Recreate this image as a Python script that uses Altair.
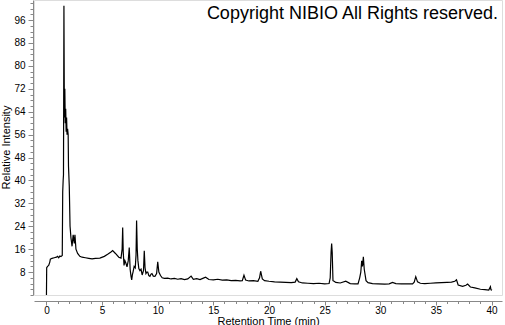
import altair as alt
import pandas as pd

# Retention time (min) and relative intensity (%)
rt = [0.0, 0.02, 0.1, 0.2, 0.3, 0.35, 0.5, 0.7, 0.9, 1.0, 1.1, 1.2, 1.3, 1.42,
      1.46, 1.5, 1.53, 1.57, 1.61, 1.65, 1.69, 1.73, 1.77, 1.81, 1.85, 1.9, 1.95,
      1.98, 2.05, 2.12, 2.2, 2.3, 2.4, 2.5, 2.56, 2.65, 2.8, 3.0, 3.2, 3.5, 3.8,
      4.1, 4.4, 4.8, 5.2, 5.5, 5.8, 5.95, 6.2, 6.5, 6.7, 6.8, 6.85, 6.9, 6.97,
      7.05, 7.15, 7.24, 7.35, 7.44, 7.52, 7.6, 7.66, 7.72, 7.78, 7.88, 7.98, 8.05,
      8.1, 8.16, 8.22, 8.3, 8.4, 8.5, 8.6, 8.72, 8.79, 8.86, 8.94, 9.02, 9.1, 9.2,
      9.3, 9.4, 9.48, 9.6, 9.75, 9.9, 10.0, 10.1, 10.25, 10.4, 10.6, 10.9, 11.2,
      11.5, 11.8, 12.1, 12.4, 12.7, 13.0, 13.2, 13.5, 13.8, 14.1, 14.3, 14.6,
      15.0, 15.4, 15.8, 16.2, 16.6, 17.0, 17.4, 17.6, 17.75, 17.9, 18.2, 18.6,
      19.0, 19.15, 19.25, 19.4, 19.6, 20.0, 20.5, 21.0, 21.5, 22.0, 22.35, 22.5,
      22.65, 23.0, 23.5, 24.0, 24.5, 25.0, 25.4, 25.5, 25.58, 25.63, 25.68, 25.75,
      25.85, 26.0, 26.4, 26.9, 27.3, 27.7, 28.0, 28.15, 28.25, 28.33, 28.4, 28.48,
      28.56, 28.72, 28.9, 29.3, 29.8, 30.4, 30.8, 31.1, 31.4, 31.9, 32.4, 32.9,
      33.05, 33.19, 33.35, 33.6, 34.0, 34.5, 35.0, 35.5, 36.0, 36.4, 36.7, 36.85,
      37.0, 37.4, 37.7, 37.85, 38.1, 38.5, 39.0, 39.4, 39.75, 39.9, 39.95, 40.05]
intensity = [0.0, 9.5, 10.0, 10.3, 11.5, 12.5, 12.8, 13.0, 13.2, 13.5, 13.0, 13.6, 13.4, 13.8,
             36.0, 40.0, 42.0, 101.0, 62.0, 72.0, 60.0, 65.0, 57.0, 62.0, 56.0, 58.0, 56.0,
             45.0, 38.0, 24.0, 20.0, 17.0, 21.0, 18.0, 21.0, 16.0, 14.5, 13.5, 13.2, 13.0, 12.8,
             12.6, 12.8, 12.9, 13.5, 14.2, 15.0, 15.5, 14.5, 13.2, 12.9, 16.0, 23.6, 15.0, 10.3,
             12.0, 11.0, 9.8, 12.0, 16.6, 9.0, 6.5, 5.3, 7.0, 8.0, 10.0, 9.5, 14.0,
             26.0, 16.0, 12.0, 9.2, 8.5, 9.0, 7.0, 8.5, 15.4, 9.5, 7.5, 8.0, 8.0, 6.8,
             6.5, 7.3, 7.5, 6.6, 6.5, 7.5, 11.6, 8.0, 6.8, 6.0, 5.8, 5.9, 5.6,
             5.8, 5.5, 5.7, 5.4, 5.6, 6.6, 5.5, 5.7, 5.4, 5.9, 6.2, 5.4,
             5.3, 5.5, 5.2, 5.3, 5.0, 5.1, 4.9, 5.0, 6.9, 5.2, 4.9, 5.0,
             4.8, 6.0, 8.3, 5.6, 5.0, 4.8, 4.6, 4.5, 4.4, 4.3, 4.5, 5.7,
             4.6, 4.2, 4.1, 4.0, 4.1, 3.9, 4.0, 6.0, 15.0, 18.0, 15.0, 5.0,
             4.8, 4.4, 4.2, 4.8, 4.0, 3.9, 3.9, 6.0, 8.0, 11.9, 10.0, 13.3,
             9.0, 5.0, 4.3, 4.0, 3.9, 3.8, 3.9, 4.4, 4.0, 3.9, 3.9, 3.9,
             4.5, 6.4, 4.6, 4.1, 4.0, 4.1, 4.2, 4.3, 4.4, 4.5, 4.8, 5.3,
             3.5, 3.0, 3.4, 3.8, 2.8, 2.5, 2.0, 1.9, 1.7, 2.9, 1.8, 1.7]

title_text = "Copyright NIBIO All Rights reserved."
x_title = "Retention Time (min)"
y_title = "Relative Intensity"
x_ticks = list(range(0, 41))
y_ticks = list(range(0, 103, 2))

df = pd.DataFrame({"rt": rt, "intensity": intensity})
FONT = "Liberation Sans"

line = alt.Chart(df).mark_line(color="black", strokeWidth=1.2, interpolate="linear").encode(
    x=alt.X("rt:Q",
            scale=alt.Scale(domain=[-1.12, 40.94], nice=False, zero=False),
            axis=alt.Axis(values=x_ticks, title=x_title, offset=6,
                          labelExpr="datum.value % 5 === 0 ? datum.label : ''",
                          labelOverlap=False, labelFlush=False,
                          tickSize={"condition": {"test": "datum.value % 5 === 0", "value": 4}, "value": 2.5},
                          labelPadding=0, titleY=14, titleBaseline="top",
                          titleFontWeight="normal", grid=False)),
    y=alt.Y("intensity:Q",
            scale=alt.Scale(domain=[0, 103], nice=False, zero=True),
            axis=alt.Axis(values=y_ticks, title=y_title, offset=1,
                          labelExpr="(datum.value % 8 === 0 && datum.value > 0) ? datum.label : ''",
                          labelOverlap=False, labelFlush=False,
                          tickSize={"condition": {"test": "datum.value % 8 === 0 && datum.value > 0", "value": 5}, "value": 3},
                          labelPadding=3, titleX=-22, titleY=147,
                          titleFontWeight="normal", grid=False)),
)

title = alt.Chart(pd.DataFrame({"t": [title_text]})).mark_text(
    align="right", baseline="alphabetic", font=FONT, fontSize=18, color="black"
).encode(x=alt.value(464), y=alt.value(18.5), text="t:N")

chart = (line + title).properties(
    width=468, height=295,
    autosize=alt.AutoSizeParams(type="none"),
    padding={"left": 34, "top": 0, "right": 3, "bottom": 30},
).configure_view(stroke=None).configure_axis(
    domainColor="black", tickColor="black", labelColor="black", titleColor="black",
    labelFont=FONT, titleFont=FONT, labelFontSize=8, titleFontSize=8,
    titleFontWeight="normal", domainWidth=1, tickWidth=1,
).configure(background="white")

chart.save("out.html", embed_options={"renderer": "svg", "actions": False})
